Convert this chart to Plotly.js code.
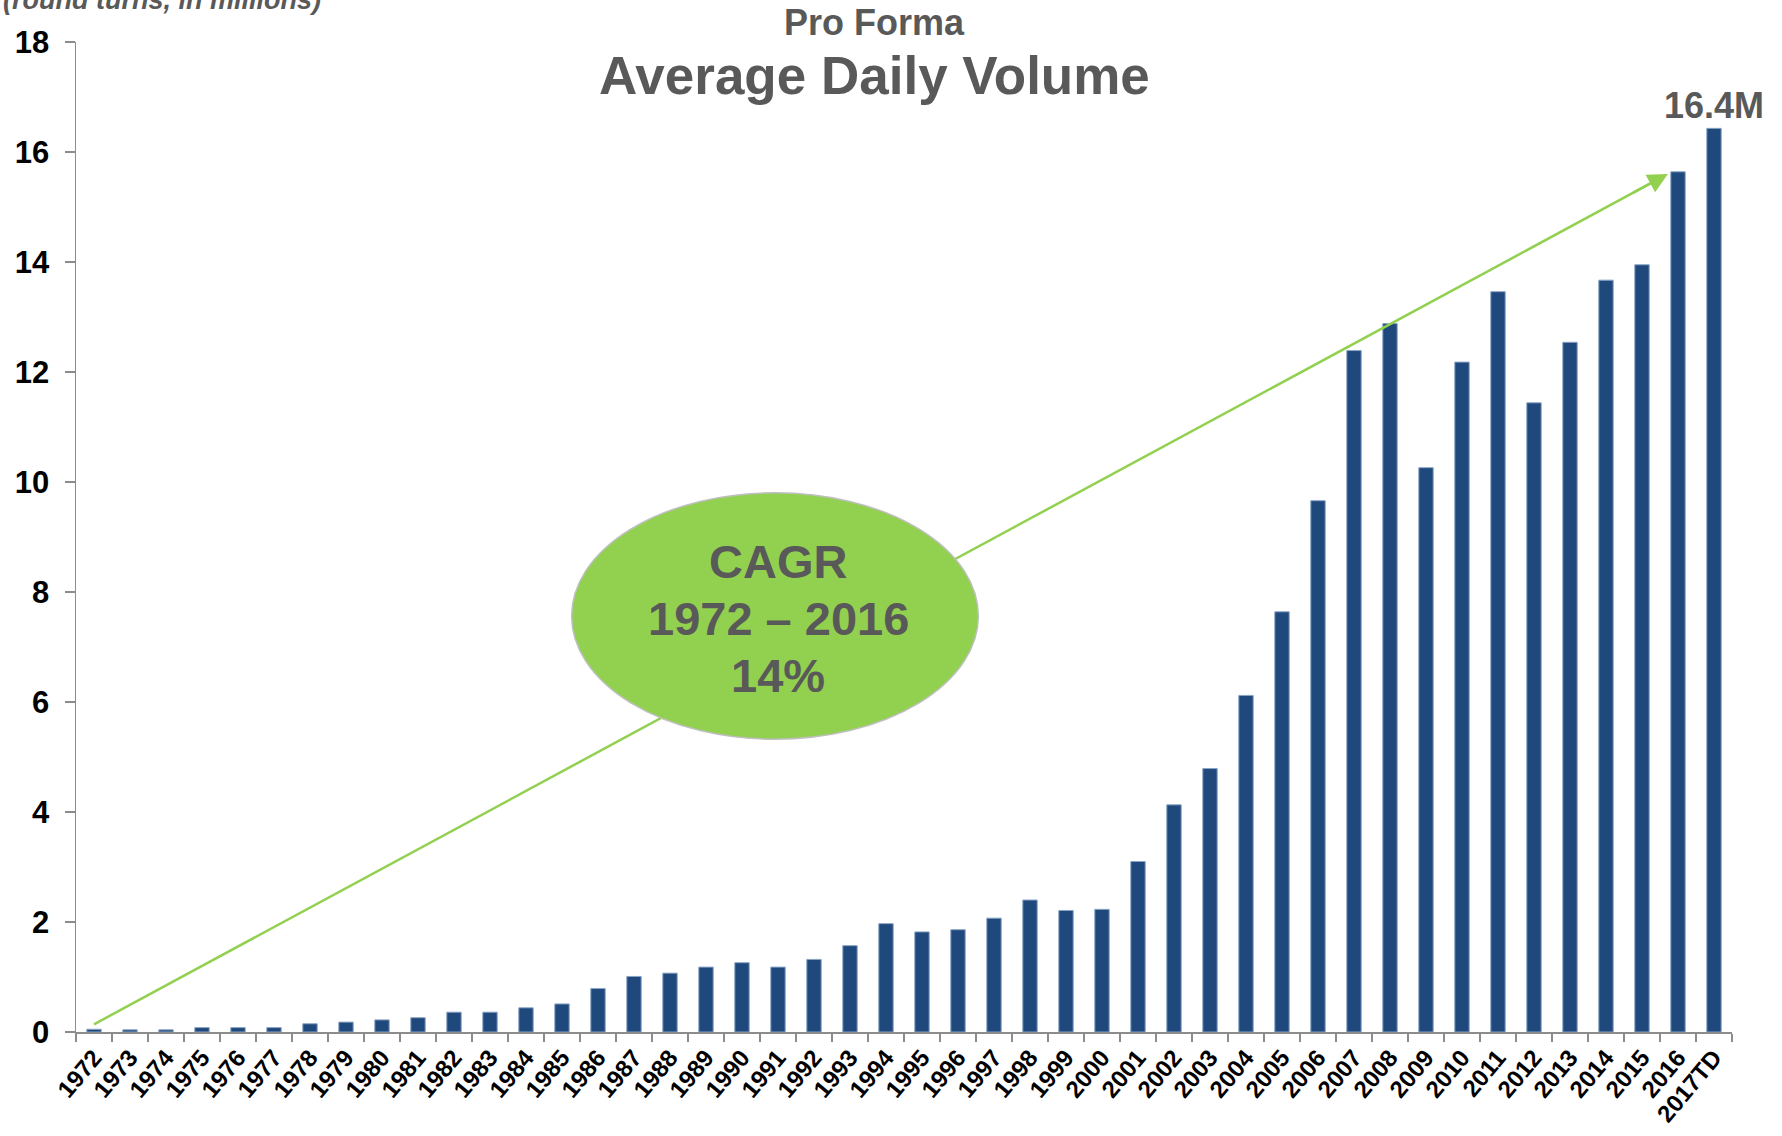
<!DOCTYPE html>
<html>
<head>
<meta charset="utf-8">
<script src="https://cdn.plot.ly/plotly-3.0.1.min.js"></script>
<style>html,body{margin:0;padding:0;background:#fff;}#chart{width:1782px;height:1136px;}</style>
</head>
<body>
<div id="chart"></div>
<script>
// Categories (years)
const years = ['1972','1973','1974','1975','1976','1977','1978','1979','1980','1981',
  '1982','1983','1984','1985','1986','1987','1988','1989','1990','1991',
  '1992','1993','1994','1995','1996','1997','1998','1999','2000','2001',
  '2002','2003','2004','2005','2006','2007','2008','2009','2010','2011',
  '2012','2013','2014','2015','2016','2017TD'];
// Average daily volume (round turns, in millions)
const adv = [0.05,0.04,0.04,0.08,0.08,0.08,0.15,0.18,0.22,0.26,
  0.36,0.36,0.44,0.51,0.79,1.01,1.07,1.18,1.26,1.18,
  1.32,1.57,1.97,1.82,1.86,2.07,2.40,2.21,2.23,3.10,
  4.13,4.79,6.12,7.64,9.66,12.39,12.88,10.26,12.18,13.46,
  11.44,12.54,13.67,13.95,15.64,16.43];
const yTicks = [0,2,4,6,8,10,12,14,16,18];
const titleTop = 'Pro Forma';
const titleMain = 'Average Daily Volume';
const unitNote = '(round turns, in millions)';
const cagrLines = ['CAGR', '1972 \u2013 2016', '14%'];

const FONT = 'Liberation Sans, Arial, Helvetica, sans-serif';
const GRAY = '#595959';
const GREEN = '#92D050';

// trend arrow endpoints (category index, value)
const arrowStart = {x: 0, y: 0.14};
const arrowEnd = {x: 43.72, y: 15.6};
const slope = (arrowEnd.y - arrowStart.y) / (arrowEnd.x - arrowStart.x);

const trace = {
  type: 'bar',
  x: years,
  y: adv,
  marker: {color: '#1F497D', line: {color: '#8aa4c6', width: 1}},
  hoverinfo: 'x+y'
};

const layout = {
  width: 1782, height: 1136,
  margin: {l: 76, r: 50, t: 42, b: 104},
  paper_bgcolor: '#ffffff', plot_bgcolor: '#ffffff',
  showlegend: false,
  bargap: 0.6,
  font: {family: FONT},
  xaxis: {
    type: 'category',
    range: [-0.5, years.length - 0.5],
    showline: true, linecolor: '#8c8c8c', linewidth: 2,
    ticks: 'outside', tickson: 'boundaries', ticklen: 8, tickcolor: '#8c8c8c', tickwidth: 1.5,
    tickangle: -50,
    tickfont: {family: FONT, size: 24, color: '#000', weight: 700},
    showgrid: false, zeroline: false, fixedrange: true
  },
  yaxis: {
    range: [0, 18],
    tickvals: yTicks,
    showline: true, linecolor: '#8c8c8c', linewidth: 1.5,
    ticks: 'outside', ticklen: 10, tickcolor: '#8c8c8c', tickwidth: 1.5,
    ticklabelstandoff: 9,
    tickfont: {family: FONT, size: 31, color: '#000', weight: 700},
    showgrid: false, zeroline: false, fixedrange: true
  },
  shapes: [
    {type: 'line', xref: 'x', yref: 'y', layer: 'above',
     x0: arrowStart.x, y0: arrowStart.y, x1: arrowEnd.x - 0.5, y1: arrowEnd.y - 0.5 * slope,
     line: {color: GREEN, width: 2.5}},
    {type: 'circle', xref: 'paper', yref: 'paper', layer: 'above',
     x0: 0.2993, x1: 0.5449, y0: 0.2957, y1: 0.5447,
     fillcolor: GREEN, line: {color: '#BFBFBF', width: 1.5}}
  ],
  annotations: [
    {xref: 'x', yref: 'y', axref: 'x', ayref: 'y', x: arrowEnd.x, y: arrowEnd.y,
     ax: arrowEnd.x - 1, ay: arrowEnd.y - slope, text: '', showarrow: true,
     arrowhead: 2, arrowsize: 1.6, arrowwidth: 2.5, arrowcolor: GREEN, standoff: 0},
    {xref: 'paper', yref: 'paper', x: 0.4819, y: 1.0192, text: titleTop, showarrow: false,
     xanchor: 'center', yanchor: 'middle', font: {family: FONT, size: 36, color: GRAY, weight: 700}},
    {xref: 'paper', yref: 'paper', x: 0.4819, y: 0.9657, text: titleMain, showarrow: false,
     xanchor: 'center', yanchor: 'middle', font: {family: FONT, size: 53, color: GRAY, weight: 700}},
    {xref: 'paper', yref: 'paper', x: -0.0453, y: 1.0428, text: unitNote, showarrow: false,
     xanchor: 'left', yanchor: 'middle', font: {family: FONT, size: 27, color: GRAY, weight: 700, style: 'italic'}},
    {xref: 'x', yref: 'y', x: years[years.length - 1], y: adv[adv.length - 1],
     text: adv[adv.length - 1].toFixed(1) + 'M', showarrow: false,
     xanchor: 'center', yanchor: 'bottom', font: {family: FONT, size: 36, color: GRAY, weight: 700}},
    {xref: 'paper', yref: 'paper', x: 0.4241, y: 0.4751, text: cagrLines[0], showarrow: false,
     xanchor: 'center', yanchor: 'middle', font: {family: FONT, size: 47, color: GRAY, weight: 700}},
    {xref: 'paper', yref: 'paper', x: 0.4241, y: 0.4179, text: cagrLines[1], showarrow: false,
     xanchor: 'center', yanchor: 'middle', font: {family: FONT, size: 47, color: GRAY, weight: 700}},
    {xref: 'paper', yref: 'paper', x: 0.4241, y: 0.3598, text: cagrLines[2], showarrow: false,
     xanchor: 'center', yanchor: 'middle', font: {family: FONT, size: 47, color: GRAY, weight: 700}}
  ]
};

Plotly.newPlot('chart', [trace], layout, {staticPlot: true, displayModeBar: false});
</script>
</body>
</html>
